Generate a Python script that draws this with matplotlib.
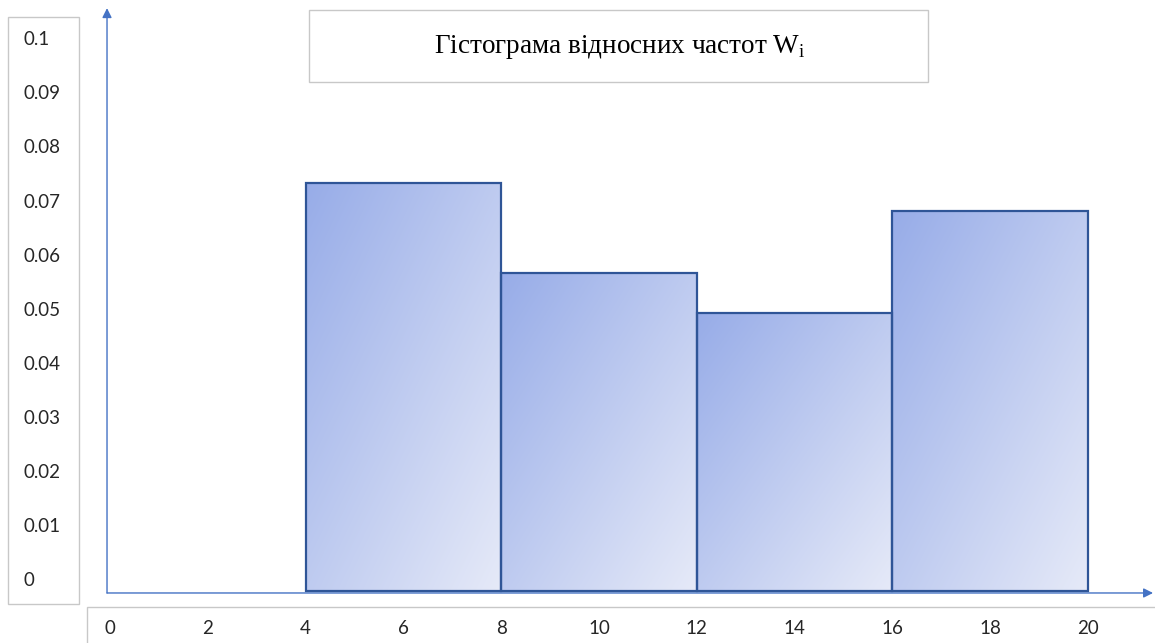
import numpy as np
import matplotlib
matplotlib.use("Agg")
import matplotlib.pyplot as plt
from matplotlib.patches import Rectangle
from matplotlib.colors import LinearSegmentedColormap
from matplotlib.transforms import blended_transform_factory

# Interval edges and relative frequencies W_i
bin_edges = [4, 8, 12, 16, 20]
rel_freq = [0.0735, 0.0569, 0.0494, 0.0683]

# Axis labels
y_ticks = [0, 0.01, 0.02, 0.03, 0.04, 0.05, 0.06, 0.07, 0.08, 0.09, 0.1]
y_labels = ["0", "0.01", "0.02", "0.03", "0.04", "0.05", "0.06", "0.07", "0.08", "0.09", "0.1"]
x_ticks = [0, 2, 4, 6, 8, 10, 12, 14, 16, 18, 20]
x_labels = [str(v) for v in x_ticks]

title = "Гістограма відносних частот W"

plt.rcParams["mathtext.fontset"] = "custom"
plt.rcParams["mathtext.rm"] = "Liberation Serif"

W, H = 1155, 643
fig = plt.figure(figsize=(W / 100, H / 100), dpi=100)


def fx(px):
    return px / W


def fy(py):
    return 1 - py / H


# main drawing area, placed in pixel terms
ax = fig.add_axes([fx(100), fy(600), fx(1155) - fx(100), fy(5) - fy(600)])
ax.set_xlim(-0.2045, 21.37)
ax.set_ylim(-0.0037, 0.10648)
ax.axis("off")

baseline = -0.0021
axis_color = "#4472C4"
edge_color = "#2F5597"

cmap = LinearSegmentedColormap.from_list("barfill", ["#97ACE8", "#E6EAF8"])
gu, gv = np.meshgrid(np.linspace(0, 1, 200), np.linspace(0, 1, 200))
grad = (gu + gv) / 2  # top-left dark -> bottom-right light

for left, right, h in zip(bin_edges[:-1], bin_edges[1:], rel_freq):
    rect = Rectangle((left, baseline), right - left, h - baseline,
                     facecolor="none", edgecolor=edge_color, lw=1.6, zorder=4)
    ax.add_patch(rect)
    img = ax.imshow(grad, cmap=cmap, vmin=0, vmax=1, origin="upper",
                    extent=[left, right, baseline, h], aspect="auto",
                    interpolation="bilinear", zorder=3)
    img.set_clip_path(rect)

# axes with arrow heads
x_axis_y = -0.0024
y_axis_x = -0.061
ax.annotate("", xy=(21.33, x_axis_y), xytext=(y_axis_x, x_axis_y),
            arrowprops=dict(arrowstyle="-|>", color=axis_color, lw=1.0,
                            mutation_scale=14, shrinkA=0, shrinkB=0),
            annotation_clip=False, zorder=2)
ax.annotate("", xy=(y_axis_x, 0.1059), xytext=(y_axis_x, x_axis_y),
            arrowprops=dict(arrowstyle="-|>", color=axis_color, lw=1.0,
                            mutation_scale=14, shrinkA=0, shrinkB=0),
            annotation_clip=False, zorder=2)

box_color = "#C8C8C8"
# label boxes and title box
for (x0, y0, x1, y1) in [(8, 17, 79, 604), (87, 607, 1165, 650), (309, 10, 928, 82)]:
    fig.patches.append(Rectangle((fx(x0), fy(y1)), fx(x1) - fx(x0), fy(y0) - fy(y1),
                                 transform=fig.transFigure, facecolor="none",
                                 edgecolor=box_color, lw=1.0))

tick_font = dict(family="Lato", size=13.5, color="#262626")
ty = blended_transform_factory(fig.transFigure, ax.transData)
for v, lab in zip(y_ticks, y_labels):
    fig.text(fx(23), v, lab, transform=ty, ha="left", va="center", **tick_font)

tx = blended_transform_factory(ax.transData, fig.transFigure)
for v, lab in zip(x_ticks, x_labels):
    fig.text(v, fy(629), lab, transform=tx, ha="center", va="center", **tick_font)

fig.text(fx(620), fy(47), title + r"$_\mathrm{i}$", ha="center", va="center",
         family="Liberation Serif", size=19.5, color="#000000")

fig.savefig("out.png", dpi=100)
